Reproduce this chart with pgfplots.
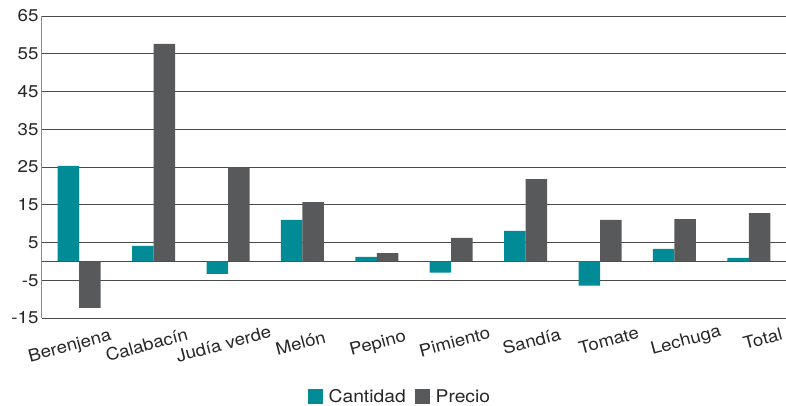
\documentclass[border=0pt]{standalone}
\usepackage{fontspec}
\setmainfont{TeX Gyre Heros}[FakeStretch=1.1]
\usepackage{pgfplots}
\usepackage{pgfplotstable}
\pgfplotsset{compat=1.18}
\usetikzlibrary{calc}

\definecolor{cantidad}{HTML}{008B96}
\definecolor{precio}{HTML}{58595B}
\definecolor{rejilla}{HTML}{4A4A4A}
\definecolor{ejeizq}{HTML}{8C8C8C}

% Variación (%) por producto
\pgfplotstableread{
idx cantidad precio
0  25.3 -12.3
1   4.1  57.6
2  -3.3  24.9
3  11.0  15.7
4   1.2   2.2
5  -3.0   6.2
6   8.1  21.8
7  -6.4  11.0
8   3.3  11.2
9   0.9  12.8
}\datos

\newcommand{\fuente}{\fontsize{17}{20}\selectfont}
\newcommand{\fuenteleyenda}{\fontsize{17.5}{20}\selectfont}

\begin{document}
\begin{tikzpicture}
\begin{axis}[
  name=ax,
  scale only axis,
  width=744pt, height=302pt,
  xmin=-0.5, xmax=9.5,
  ymin=-15, ymax=65,
  ybar=0pt, bar width=21.5pt,
  axis line style={draw=none},
  major tick length=0pt,
  xtick={0,...,9},
  xticklabels={Berenjena,Calabacín,Judía verde,Melón,Pepino,Pimiento,Sandía,Tomate,Lechuga,Total},
  ytick={-15,-5,5,15,25,35,45,55,65},
  yticklabels={-15,-5,5,15,25,35,45,55,65},
  extra y ticks={0},
  extra y tick labels={},
  extra y tick style={ymajorgrids=true},
  ymajorgrids=true,
  grid style={draw=rejilla, line width=0.9pt},
  tick label style={font=\fuente, text=black!85},
  yticklabel style={xshift=0pt},
  xticklabel style={rotate=15, anchor=north, yshift=-14pt,
    xshift={-5pt+(\ticknum-4.2)*2.7pt}},
  legend style={at={(0.481,-0.2616)}, anchor=center, draw=none,
    font=\fuenteleyenda, text=black!85, legend columns=2,
    /tikz/every even column/.append style={column sep=7pt}},
  legend image code/.code={\fill[#1] (0pt,-7.5pt) rectangle (15pt,7.5pt);
    \path (0pt,0pt) -- (19pt,0pt);},
  clip=false,
]
\addplot[fill=cantidad, draw=none] table[x=idx, y=cantidad] {\datos};
\addplot[fill=precio, draw=none] table[x=idx, y=precio] {\datos};
\legend{Cantidad, Precio}
\draw[ejeizq, line width=1pt] (rel axis cs:0,0) -- (rel axis cs:0,1);
\end{axis}
\pgfresetboundingbox
\path[use as bounding box] ($(ax.south west)+(-42pt,-88pt)$) rectangle ($(ax.north east)+(0pt,16pt)$);
\end{tikzpicture}
\end{document}
